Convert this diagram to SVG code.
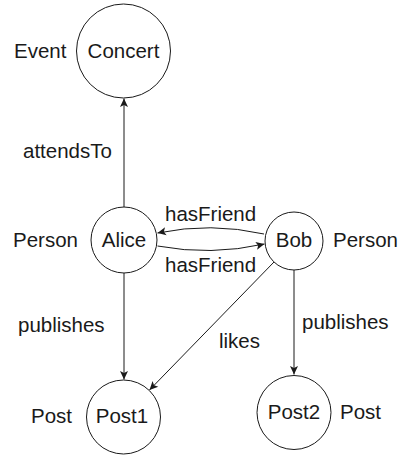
<svg xmlns="http://www.w3.org/2000/svg" width="403" height="456" viewBox="0 0 403 456">
<style>
text{font-family:"Liberation Sans",Arial,sans-serif;font-size:20.5px;fill:#1a1a1a}
.n{text-anchor:middle}
circle{fill:#fff;stroke:#1a1a1a;stroke-width:1}
.e{fill:none;stroke:#1a1a1a;stroke-width:1}
</style>
<defs>
<marker id="ah" viewBox="-10 -5 11 10" refX="0" refY="0" markerWidth="11" markerHeight="10" markerUnits="userSpaceOnUse" orient="auto">
<path d="M0,0 L-8.5,-4 L-6.5,0 L-8.5,4 Z" fill="#1a1a1a"/>
</marker>
</defs>
<rect width="403" height="456" fill="#fff"/>
<g id="connectors">
<path class="e" d="M124,207 L124,98.5" marker-end="url(#ah)"/>
<path class="e" d="M264,234 Q211,222 157.5,233" marker-end="url(#ah)"/>
<path class="e" d="M157.5,246 Q211,256 264.5,244" marker-end="url(#ah)"/>
<path class="e" d="M124,273 L124,379.5" marker-end="url(#ah)"/>
<path class="e" d="M274,262 L149.5,390" marker-end="url(#ah)"/>
<path class="e" d="M294,270 L294,374.5" marker-end="url(#ah)"/>
<text x="23" y="158">attendsTo</text>
<text x="165" y="220.5">hasFriend</text>
<text x="165" y="271.5">hasFriend</text>
<text x="18" y="332">publishes</text>
<text x="219" y="348">likes</text>
<text x="302" y="329">publishes</text>
</g>
<g id="concert">
<circle cx="123.5" cy="51" r="47"/>
<text class="n" x="123.5" y="57.5">Concert</text>
<text x="14" y="57.5">Event</text>
</g>
<g id="alice">
<circle cx="124" cy="240" r="33"/>
<text class="n" x="124" y="247">Alice</text>
<text x="13" y="247">Person</text>
</g>
<g id="bob">
<circle cx="294" cy="241" r="29"/>
<text class="n" x="294" y="247">Bob</text>
<text x="333" y="247">Person</text>
</g>
<g id="post1">
<circle cx="123.5" cy="417" r="37"/>
<text class="n" x="122" y="423">Post1</text>
<text x="31" y="423">Post</text>
</g>
<g id="post2">
<circle cx="294" cy="412.5" r="37"/>
<text class="n" x="294" y="419">Post2</text>
<text x="340" y="419">Post</text>
</g>
</svg>
